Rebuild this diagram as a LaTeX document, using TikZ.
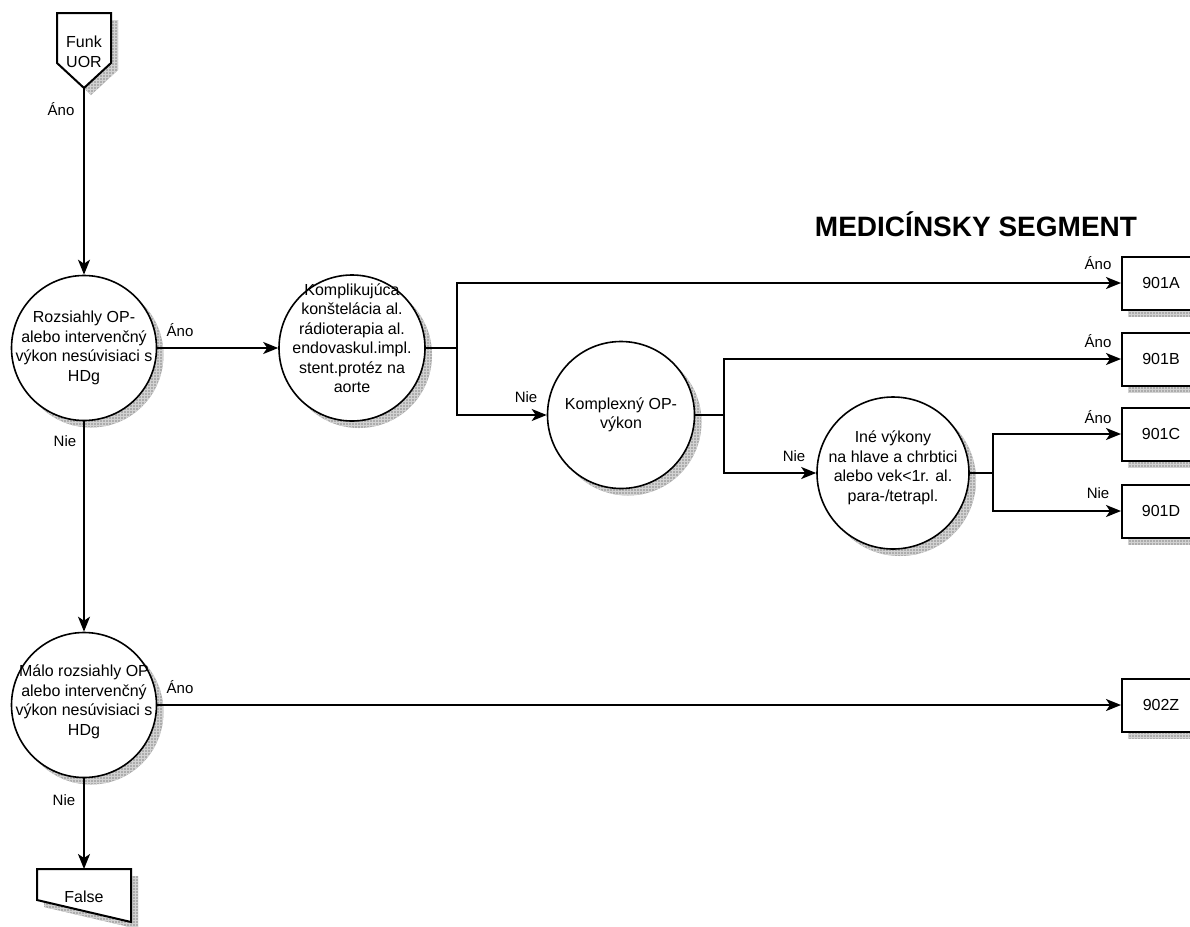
\documentclass[tikz,border=0pt]{standalone}
\usepackage{fontspec}
\setmainfont{Liberation Sans}
\usetikzlibrary{arrows.meta,patterns,calc}
\begin{document}
\begin{tikzpicture}[x=1pt,y=-1pt,
  ln/.style={line width=2pt},
  arr/.style={line width=2pt,-{Stealth[length=15pt,width=12pt,inset=4pt]}},
  lbl/.style={font=\fontsize{15}{18}\selectfont, inner sep=0pt},
  txt/.style={font=\fontsize{16}{19.5}\selectfont, align=center, inner sep=0pt},
  shd/.style={fill=gray!65, draw=none, postaction={pattern=grid, pattern color=gray!35}},
  dec/.style={circle, draw, line width=1.6pt, fill=white, inner sep=0pt},
  outbox/.style={draw, line width=2pt, fill=white, minimum width=80pt, minimum height=53pt, anchor=west, inner sep=0pt, font=\fontsize{16}{19}\selectfont}
]
\clip (0,0) rectangle (1190,926);
\fill[white] (0,0) rectangle (1190,926);

% centers
\coordinate (p1) at (84,348);
\coordinate (p2) at (352,348);
\coordinate (p3) at (621,415);
\coordinate (p4) at (893,473);
\coordinate (p5) at (84,705);

% shadows
\fill[shd] ($(p1)+(7,7)$) circle (72.5);
\fill[shd] ($(p2)+(7,7)$) circle (73);
\fill[shd] ($(p3)+(7,7)$) circle (73.5);
\fill[shd] ($(p4)+(7,7)$) circle (76);
\fill[shd] ($(p5)+(7,7)$) circle (72.5);
\fill[shd] (64,20) -- (118,20) -- (118,70) -- (91,95) -- (64,70) -- cycle;
\fill[shd] (44,876) -- (138,876) -- (138,929) -- (44,907) -- cycle;
\foreach \yy in {283,359,434,511,705} {
  \fill[shd] (1128,\yy-26.5+7) rectangle (1215,\yy+26.5+7);
}

% Funk UOR off-page connector
\draw[line width=2pt, fill=white, line join=miter] (57,13) -- (111,13) -- (111,63) -- (84,88) -- (57,63) -- cycle;
\node[txt] (funk) at (84,52) {Funk\\UOR};
\coordinate (funkb) at (84,88);

% False
\draw[line width=2pt, fill=white, line join=miter] (37,869) -- (131,869) -- (131,922) -- (37,900) -- cycle;
\node[txt] (false) at (84,897) {False};
\coordinate (falsetop) at (84,869);

% decision circles
\node[dec, minimum size=145pt] (c1) at (p1) {};
\node[dec, minimum size=146pt] (c2) at (p2) {};
\node[dec, minimum size=147pt] (c3) at (p3) {};
\node[dec, minimum size=152pt] (c4) at (p4) {};
\node[dec, minimum size=145pt] (c5) at (p5) {};

\node[txt] (t1) at (p1) {Rozsiahly OP-\\alebo intervenčný\\výkon nesúvisiaci s\\HDg};
\node[txt] (t2) at ($(p2)+(0,-10)$) {Komplikujúca\\konštelácia al.\\rádioterapia al.\\endovaskul.impl.\\stent.protéz na\\aorte};
\node[txt] (t3) at (p3) {Komplexný OP-\\výkon};
\node[txt] (t4) at ($(p4)+(0,-5)$) {Iné výkony\\na hlave a chrbtici\\alebo vek<1r. al.\\para-/tetrapl.};
\node[txt] (t5) at ($(p5)+(0,-3)$) {Málo rozsiahly OP\\alebo intervenčný\\výkon nesúvisiaci s\\HDg};

% result boxes
\node[outbox] (bA) at (1121,283) {\hspace*{-2pt}901A};
\node[outbox] (bB) at (1121,359) {\hspace*{-2pt}901B};
\node[outbox] (bC) at (1121,434) {\hspace*{-2pt}901C};
\node[outbox] (bD) at (1121,511) {\hspace*{-2pt}901D};
\node[outbox] (bZ) at (1121,705) {\hspace*{-2pt}902Z};

% title
\node[font=\bfseries\fontsize{28}{32}\selectfont, inner sep=0pt] (title) at (976,224) {MEDICÍNSKY SEGMENT};

% junctions
\coordinate (j1) at (457,348);
\coordinate (j2) at (724,415);
\coordinate (j3) at (993,473);

% connectors
\draw[arr] (funkb) -- (c1.north);
\draw[arr] (c1.east) -- (c2.west);
\draw[ln] (c2.east) -- (j1);
\draw[arr] (j1) |- (bA.west);
\draw[arr] (j1) |- (c3.west);
\draw[ln] (c3.east) -- (j2);
\draw[arr] (j2) |- (bB.west);
\draw[arr] (j2) |- (c4.west);
\draw[ln] (c4.east) -- (j3);
\draw[arr] (j3) |- (bC.west);
\draw[arr] (j3) |- (bD.west);
\draw[arr] (c1.south) -- (c5.north);
\draw[arr] (c5.east) -- (bZ.west);
\draw[arr] (c5.south) -- (falsetop);

% labels
\node[lbl] (l1) at (61,109) {Áno};
\node[lbl] (l2) at (180,330) {Áno};
\node[lbl] (l3) at (65,441) {Nie};
\node[lbl] (l4) at (526,397) {Nie};
\node[lbl] (l5) at (794,456) {Nie};
\node[lbl] (l6) at (1098,263) {Áno};
\node[lbl] (l7) at (1098,341) {Áno};
\node[lbl] (l8) at (1098,417) {Áno};
\node[lbl] (l9) at (1098,493) {Nie};
\node[lbl] (l10) at (180,687) {Áno};
\node[lbl] (l11) at (64,800) {Nie};
\end{tikzpicture}
\end{document}
